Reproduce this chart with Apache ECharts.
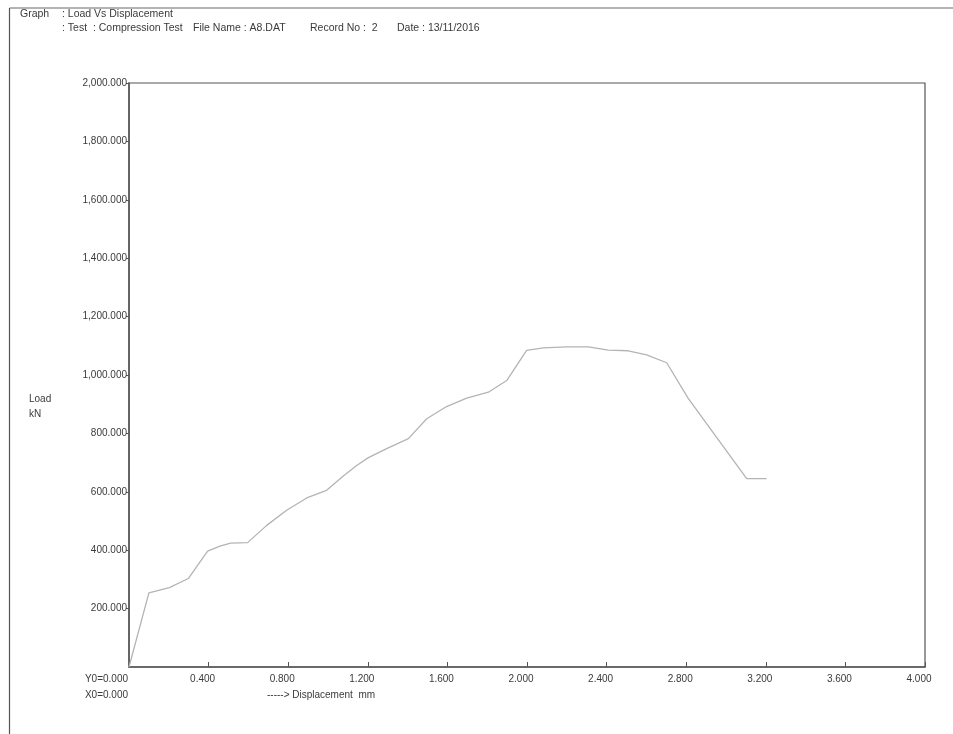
<!DOCTYPE html>
<html>
<head>
<meta charset="utf-8">
<script src="https://cdn.jsdelivr.net/npm/echarts@6/dist/echarts.min.js"></script>
<style>
  html, body { margin: 0; padding: 0; background: #fff; }
  #chart { width: 953px; height: 734px; }
</style>
</head>
<body>
<div id="chart"></div>
<script>
// Compression test record: displacement (mm) vs load (kN)
const displacement = [0.000, 0.100, 0.203, 0.298, 0.395, 0.457, 0.511, 0.596, 0.692, 0.792,
  0.893, 0.993, 1.077, 1.144, 1.203, 1.295, 1.404, 1.496, 1.596, 1.697, 1.806, 1.898,
  1.998, 2.082, 2.199, 2.308, 2.409, 2.509, 2.601, 2.702, 2.811, 3.104, 3.204];
const load = [0, 254, 272, 303, 397, 414, 424, 426, 485, 537,
  579, 605, 654, 690, 717, 748, 782, 850, 892, 921, 941, 981,
  1084, 1093, 1096, 1096, 1085, 1083, 1069, 1042, 919, 645, 645];

const xTicks = { min: 0, max: 4, interval: 0.4 };
const yTicks = { min: 0, max: 2000, interval: 200 };

const headerLine1 = ['Graph', ': Load Vs Displacement'];
const headerLine2 = [': Test  : Compression Test', 'File Name : A8.DAT', 'Record No :  2', 'Date : 13/11/2016'];
const originLabels = ['Y0=0.000', 'X0=0.000'];
const xAxisTitle = '-----> Displacement  mm';
const yAxisTitle = ['Load', 'kN'];

const textColor = '#3a3a3a';
const axisColor = '#555';
const font = '"Liberation Sans", Arial, sans-serif';

const points = displacement.map((d, i) => [d, load[i]]);

function fmtLoad(v) {
  return v.toLocaleString('en-US', { minimumFractionDigits: 3, maximumFractionDigits: 3 });
}

function txt(x, y, text, extra, size) {
  return {
    type: 'text', x: x, y: y,
    style: Object.assign({ text: text, fill: textColor, font: (size || 10) + 'px ' + font }, extra || {})
  };
}

const chart = echarts.init(document.getElementById('chart'), null, { renderer: 'canvas' });

chart.setOption({
  animation: false,
  backgroundColor: '#fff',
  grid: {
    left: 129, top: 83, right: 28, bottom: 67,
    show: true, borderColor: axisColor, borderWidth: 1.2, backgroundColor: 'transparent'
  },
  xAxis: {
    type: 'value',
    min: xTicks.min, max: xTicks.max, interval: xTicks.interval,
    axisLine: { show: true, onZero: false, lineStyle: { color: axisColor, width: 1.5 } },
    axisTick: { show: true, inside: true, length: 5, lineStyle: { color: axisColor } },
    splitLine: { show: false },
    axisLabel: {
      showMinLabel: false,
      color: textColor, fontFamily: font, fontSize: 10, margin: 7,
      padding: [0, 12, 0, 0],
      formatter: v => v.toFixed(3)
    }
  },
  yAxis: {
    type: 'value',
    min: yTicks.min, max: yTicks.max, interval: yTicks.interval,
    axisLine: { show: true, lineStyle: { color: axisColor, width: 1.5 } },
    axisTick: { show: true, inside: false, length: 3, lineStyle: { color: axisColor } },
    splitLine: { show: false },
    axisLabel: {
      showMinLabel: false,
      color: textColor, fontFamily: font, fontSize: 10, margin: 2,
      formatter: v => fmtLoad(v)
    }
  },
  series: [{
    type: 'line',
    data: points,
    symbol: 'none',
    lineStyle: { color: '#b4b4b4', width: 1.3 }
  }],
  graphic: [
    // outer frame edges
    { type: 'line', shape: { x1: 9.5, y1: 8, x2: 953, y2: 8 }, style: { stroke: '#9a9a9a', lineWidth: 1.5 } },
    { type: 'line', shape: { x1: 9.5, y1: 8, x2: 9.5, y2: 734 }, style: { stroke: '#555', lineWidth: 1.2 } },
    // header
    txt(20, 14.5, headerLine1[0], { textVerticalAlign: 'middle' }, 10.5),
    txt(62, 14.5, headerLine1[1], { textVerticalAlign: 'middle' }, 10.5),
    txt(62, 28.5, headerLine2[0], { textVerticalAlign: 'middle' }, 10.5),
    txt(193, 28.5, headerLine2[1], { textVerticalAlign: 'middle' }, 10.5),
    txt(310, 28.5, headerLine2[2], { textVerticalAlign: 'middle' }, 10.5),
    txt(397, 28.5, headerLine2[3], { textVerticalAlign: 'middle' }, 10.5),
    // origin values
    txt(128, 679, originLabels[0], { textAlign: 'right', textVerticalAlign: 'middle' }),
    txt(128, 695, originLabels[1], { textAlign: 'right', textVerticalAlign: 'middle' }),
    // axis titles
    txt(267, 695, xAxisTitle, { textVerticalAlign: 'middle' }),
    txt(29, 399, yAxisTitle[0], { textVerticalAlign: 'middle' }),
    txt(29, 414, yAxisTitle[1], { textVerticalAlign: 'middle' })
  ]
});
</script>
</body>
</html>
